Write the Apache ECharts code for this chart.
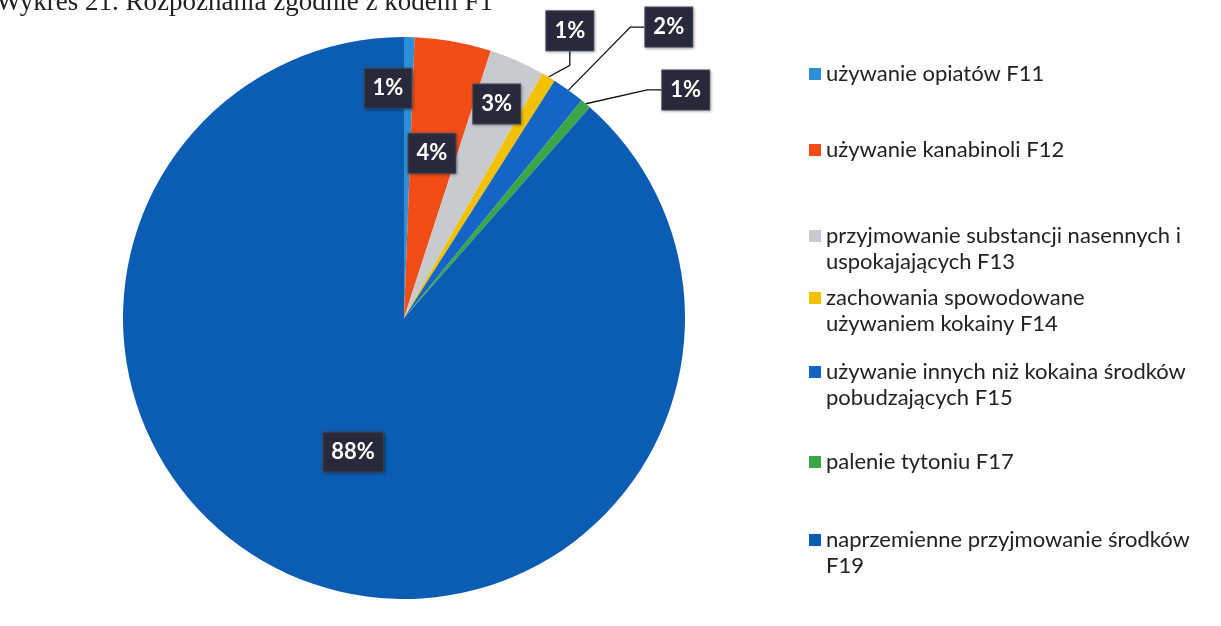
<!DOCTYPE html>
<html>
<head>
<meta charset="utf-8">
<script src="https://cdn.jsdelivr.net/npm/echarts@6/dist/echarts.min.js"></script>
<style>
html,body{margin:0;padding:0;background:#fff;}
#c{width:1221px;height:626px;}
</style>
</head>
<body>
<div id="c"></div>
<script>
// ---- data ----
const categories = [
  'używanie opiatów F11',
  'używanie kanabinoli F12',
  'przyjmowanie substancji nasennych i uspokajających F13',
  'zachowania spowodowane używaniem kokainy F14',
  'używanie innych niż kokaina środków pobudzających F15',
  'palenie tytoniu F17',
  'naprzemienne przyjmowanie środków F19'
];
const legendLabels = [
  'używanie opiatów F11',
  'używanie kanabinoli F12',
  'przyjmowanie substancji nasennych i\nuspokajających F13',
  'zachowania spowodowane\nużywaniem kokainy F14',
  'używanie innych niż kokaina środków\npobudzających F15',
  'palenie tytoniu F17',
  'naprzemienne przyjmowanie środków\nF19'
];
const values = [0.6, 4.4, 3.2, 0.8, 1.9, 0.6, 88.5];
const titleText = 'Wykres 21. Rozpoznania zgodnie z kodem F1';

// ---- styling / layout ----
const colors = ['#2a8fd6', '#f24d17', '#c7cacf', '#f2c200', '#1565c6', '#3aa645', '#0b5cb3'];
const cx = 404, cy = 318, R = 281;
const outsideLabel = [false, false, false, true, true, true, false];
// label spots: [angle in degrees clockwise from 12 o'clock, distance as fraction of radius]
const labelSpots = [[-4, 0.82], [9.6, 0.595], [23.4, 0.83], [30, 1.18], [42.3, 1.40], [51, 1.29], [200.8, 0.51]];
const legendLineCenters = [74, 150, 236, 298, 372, 462, 540];
const LH = 26, ICON = 12;

const chart = echarts.init(document.getElementById('c'), null, {renderer: 'canvas'});

const pieData = categories.map((name, i) => ({
  name,
  value: values[i],
  itemStyle: {color: colors[i]},
  label: {position: outsideLabel[i] ? 'outside' : 'inside'},
  labelLine: {show: outsideLabel[i]}
}));

const legends = categories.map((name, i) => {
  const lines = legendLabels[i].split('\n').length;
  const h = ICON + (lines - 1) * LH;
  // square at the top of the icon box, invisible speck at its bottom so the
  // icon sits next to the first text line
  const icon = lines === 1 ? 'rect'
    : 'path://M0,0H' + ICON + 'V' + ICON + 'H0Z M0,' + (h - 0.01) + 'L0.01,' + h + 'L0,' + h + 'Z';
  return {
    data: [name],
    orient: 'vertical',
    left: 809,
    top: legendLineCenters[i] - 13,
    padding: 0,
    itemWidth: ICON,
    itemHeight: h,
    itemGap: 0,
    icon: icon,
    selectedMode: false,
    formatter: () => legendLabels[i],
    textStyle: {
      fontFamily: 'Lato',
      fontSize: 22,
      color: '#222',
      lineHeight: LH
    }
  };
});

chart.setOption({
  animation: false,
  backgroundColor: '#ffffff',
  graphic: [{
    type: 'text',
    left: -4,
    top: -11,
    style: {text: titleText, font: '27px "Liberation Serif"', fill: '#222'}
  }],
  legend: legends,
  series: [{
    type: 'pie',
    center: [cx, cy],
    radius: R,
    startAngle: 90,
    clockwise: true,
    percentPrecision: 0,
    avoidLabelOverlap: false,
    data: pieData,
    label: {
      formatter: '{d}%',
      color: '#ffffff',
      fontFamily: 'Lato',
      fontWeight: 'bold',
      fontSize: 22,
      backgroundColor: '#262a3b',
      borderColor: '#4b5062',
      borderWidth: 1,
      padding: [9, 8, 8, 8],
      shadowColor: 'rgba(0,0,0,0.35)',
      shadowBlur: 3,
      shadowOffsetX: 1,
      shadowOffsetY: 1
    },
    labelLine: {length: 10, length2: 14, lineStyle: {color: '#111', width: 1.3}},
    labelLayout: function (p) {
      const s = labelSpots[p.dataIndex];
      const a = s[0] * Math.PI / 180;
      return {
        x: cx + Math.sin(a) * s[1] * R,
        y: cy - Math.cos(a) * s[1] * R,
        align: 'center',
        verticalAlign: 'middle'
      };
    }
  }]
});
</script>
</body>
</html>
